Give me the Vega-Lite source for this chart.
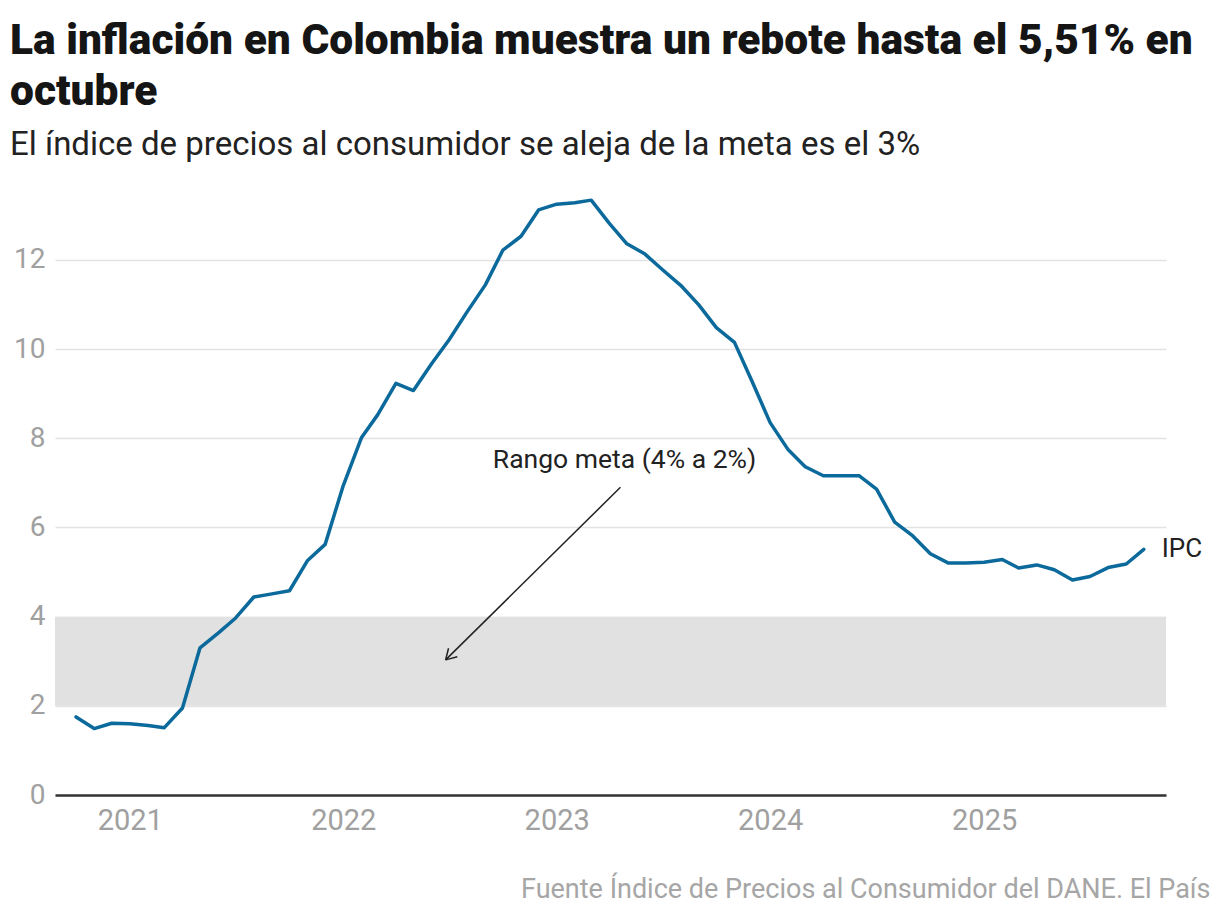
{
  "$schema": "https://vega.github.io/schema/vega-lite/v6.json",
  "autosize": {"type": "none"},
  "width": 1111,
  "height": 602,
  "padding": {"left": 55, "top": 193, "right": 54, "bottom": 125},
  "background": "white",
  "title": {
    "text": ["La inflación en Colombia muestra un rebote hasta el 5,51% en", "octubre"],
    "subtitle": "El índice de precios al consumidor se aleja de la meta es el 3%",
    "anchor": "start",
    "frame": "group",
    "dx": -45,
    "offset": 31,
    "font": "Roboto",
    "fontSize": 42.5,
    "fontWeight": 900,
    "color": "#151515",
    "lineHeight": 51,
    "subtitleFont": "Roboto",
    "subtitleFontSize": 33,
    "subtitleColor": "#222222",
    "subtitlePadding": 16
  },
  "config": {
    "view": {"stroke": null},
    "font": "Roboto"
  },
  "datasets": {
    "ipc": [
      {"date": "2020-10-01", "value": 1.75},
      {"date": "2020-11-01", "value": 1.49},
      {"date": "2020-12-01", "value": 1.61},
      {"date": "2021-01-01", "value": 1.60},
      {"date": "2021-02-01", "value": 1.56},
      {"date": "2021-03-01", "value": 1.51},
      {"date": "2021-04-01", "value": 1.95},
      {"date": "2021-05-01", "value": 3.30},
      {"date": "2021-06-01", "value": 3.63},
      {"date": "2021-07-01", "value": 3.97},
      {"date": "2021-08-01", "value": 4.44},
      {"date": "2021-09-01", "value": 4.51},
      {"date": "2021-10-01", "value": 4.58},
      {"date": "2021-11-01", "value": 5.26},
      {"date": "2021-12-01", "value": 5.62},
      {"date": "2022-01-01", "value": 6.94},
      {"date": "2022-02-01", "value": 8.01},
      {"date": "2022-03-01", "value": 8.53},
      {"date": "2022-04-01", "value": 9.23},
      {"date": "2022-05-01", "value": 9.07},
      {"date": "2022-06-01", "value": 9.67},
      {"date": "2022-07-01", "value": 10.21},
      {"date": "2022-08-01", "value": 10.84},
      {"date": "2022-09-01", "value": 11.44},
      {"date": "2022-10-01", "value": 12.22},
      {"date": "2022-11-01", "value": 12.53},
      {"date": "2022-12-01", "value": 13.12},
      {"date": "2023-01-01", "value": 13.25},
      {"date": "2023-02-01", "value": 13.28},
      {"date": "2023-03-01", "value": 13.34},
      {"date": "2023-04-01", "value": 12.82},
      {"date": "2023-05-01", "value": 12.36},
      {"date": "2023-06-01", "value": 12.13},
      {"date": "2023-07-01", "value": 11.78},
      {"date": "2023-08-01", "value": 11.43},
      {"date": "2023-09-01", "value": 10.99},
      {"date": "2023-10-01", "value": 10.48},
      {"date": "2023-11-01", "value": 10.15},
      {"date": "2023-12-01", "value": 9.28},
      {"date": "2024-01-01", "value": 8.35},
      {"date": "2024-02-01", "value": 7.74},
      {"date": "2024-03-01", "value": 7.36},
      {"date": "2024-04-01", "value": 7.16},
      {"date": "2024-05-01", "value": 7.16},
      {"date": "2024-06-01", "value": 7.16},
      {"date": "2024-07-01", "value": 6.86},
      {"date": "2024-08-01", "value": 6.12},
      {"date": "2024-09-01", "value": 5.81},
      {"date": "2024-10-01", "value": 5.41},
      {"date": "2024-11-01", "value": 5.20},
      {"date": "2024-12-01", "value": 5.20},
      {"date": "2025-01-01", "value": 5.22},
      {"date": "2025-02-01", "value": 5.28},
      {"date": "2025-03-01", "value": 5.09},
      {"date": "2025-04-01", "value": 5.16},
      {"date": "2025-05-01", "value": 5.05},
      {"date": "2025-06-01", "value": 4.82},
      {"date": "2025-07-01", "value": 4.90},
      {"date": "2025-08-01", "value": 5.10},
      {"date": "2025-09-01", "value": 5.18},
      {"date": "2025-10-01", "value": 5.51}
    ]
  },
  "layer": [
    {
      "data": {"values": [{"lo": 2, "hi": 4}]},
      "mark": {"type": "rect", "color": "#e1e1e1"},
      "encoding": {
        "y": {"field": "lo", "type": "quantitative", "scale": {"domain": [0, 13.5], "nice": false, "zero": true},
          "axis": {
            "values": [0, 2, 4, 6, 8, 10, 12],
            "title": null,
            "domain": false,
            "ticks": false,
            "grid": true,
            "gridColor": "#e3e3e3",
            "gridWidth": 1.5,
            "labelFont": "Roboto",
            "labelFontSize": 28,
            "labelColor": "#a0a0a0",
            "labelPadding": 10,
            "zindex": 0
          }
        },
        "y2": {"field": "hi"}
      }
    },
    {
      "data": {"name": "ipc"},
      "mark": {"type": "line", "color": "#0b6a9b", "strokeWidth": 3.5, "strokeJoin": "round", "strokeCap": "round"},
      "encoding": {
        "x": {
          "field": "date",
          "type": "temporal",
          "scale": {"domain": [{"year": 2020, "month": 8, "date": 26, "utc": true}, {"year": 2025, "month": 11, "date": 8, "utc": true}], "nice": false},
          "axis": {
            "values": [{"year": 2021, "month": 1, "date": 1, "utc": true}, {"year": 2022, "month": 1, "date": 1, "utc": true}, {"year": 2023, "month": 1, "date": 1, "utc": true}, {"year": 2024, "month": 1, "date": 1, "utc": true}, {"year": 2025, "month": 1, "date": 1, "utc": true}],
            "format": "%Y",
            "formatType": "utc",
            "grid": false,
            "ticks": false,
            "domain": true,
            "domainColor": "#333333",
            "domainWidth": 2.5,
            "labelFont": "Roboto",
            "labelFontSize": 29,
            "labelColor": "#a0a0a0",
            "labelPadding": 11,
            "title": "Fuente Índice de Precios al Consumidor del DANE. El País",
            "titleFont": "Roboto",
            "titleFontSize": 27,
            "titleFontWeight": "normal",
            "titleColor": "#a6a6a6",
            "titleAlign": "right",
            "titleAnchor": null,
            "titleX": 1155,
            "titleY": 102,
            "titleBaseline": "alphabetic"
          }
        },
        "y": {"field": "value", "type": "quantitative"}
      }
    },
    {
      "data": {"values": [{"date": "2025-10-01", "value": 5.51, "label": "IPC"}]},
      "mark": {"type": "text", "align": "left", "baseline": "middle", "dx": 18, "fontSize": 26, "font": "Roboto", "color": "#222222"},
      "encoding": {
        "x": {"field": "date", "type": "temporal"},
        "y": {"field": "value", "type": "quantitative"},
        "text": {"field": "label"}
      }
    },
    {
      "data": {"values": [{"date": "2023-04-27", "value": 7.51, "label": "Rango meta (4% a 2%)"}]},
      "mark": {"type": "text", "align": "center", "baseline": "middle", "fontSize": 26.5, "font": "Roboto", "color": "#222222"},
      "encoding": {
        "x": {"field": "date", "type": "temporal"},
        "y": {"field": "value", "type": "quantitative"},
        "text": {"field": "label"}
      }
    },
    {
      "data": {"values": [
        {"d1": "2023-04-20", "v1": 6.9, "d2": "2022-06-25", "v2": 3.03},
        {"d1": "2022-07-15", "v1": 3.10, "d2": "2022-06-25", "v2": 3.03},
        {"d1": "2022-06-30", "v1": 3.29, "d2": "2022-06-25", "v2": 3.03}
      ]},
      "mark": {"type": "rule", "color": "#222222", "strokeWidth": 1.5},
      "encoding": {
        "x": {"field": "d1", "type": "temporal"},
        "x2": {"field": "d2"},
        "y": {"field": "v1", "type": "quantitative"},
        "y2": {"field": "v2"}
      }
    }
  ]
}
